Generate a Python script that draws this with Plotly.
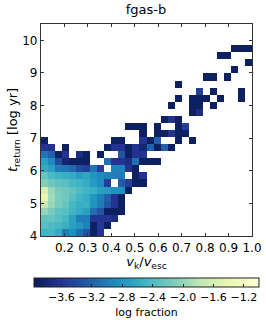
import plotly.graph_objects as go

_ = None
N = -3.9
# log fraction per cell, one list per t_return row (bottom to top), columns left to right
r00 = [-2.5, -2.45, -2.6, -3.0, -2.85, -3.1, -3.3, N, -3.6]
r01 = [-2.35, -2.4, -2.45, -2.55, -2.7, -2.8, -2.95, N, -3.55, N]
r02 = [-2.3, -2.25, -2.35, -2.45, -2.7, -3.0, -3.0, -3.6, -3.6, -3.6, -3.7]
r03 = [-2.0, -2.15, -2.3, -2.35, -2.5, -2.6, -2.7, -3.1, -3.3, N, N, N]
r04 = [-1.75, -1.98, -2.15, -2.25, -2.45, -2.55, -2.55, -2.8, -3.0, -3.3, -3.6, N]
r05 = [-1.4, -1.92, -2.12, -2.2, -2.35, -2.5, -2.6, -2.8, -2.95, -3.2, -3.6, N]
r06 = [-1.6, -1.98, -2.15, -2.2, -2.28, -2.4, -2.5, -2.55, -2.7, -2.75, -2.85, -2.85, N]
r07 = [-2.1, -2.2, -2.28, -2.32, -2.45, -2.5, -2.6, -2.75, -2.85, -3.5, _, -3.25, -3.5, N, N]
r08 = [-2.25, -2.42, -2.5, -2.55, -2.6, -2.75, -2.65, -2.8, -2.9, -2.95, -3.0, -3.0, _, N, -3.6]
r09 = [-2.6, -2.7, -3.0, -3.05, -3.15, -3.4, -3.5, -3.05, -3.5, _, -2.95, -2.95, -3.6, N]
r10 = [-2.7, -2.9, -3.4, -3.8, N, N, N, _, _, -3.1, -3.6, -3.6, -3.7, -3.1, N, N, N]
r11 = [-3.05, -3.2, N, -3.6, _, -3.7, N, _, N, _, _, -3.3, N, -3.6, -3.6]
r12 = [-3.6, -3.6, _, N, _, _, _, _, _, N, -3.6, -3.6, N, -3.6, -3.8, -3.2, N, -3.2, N]
r13 = [N, _, _, _, _, _, _, _, _, _, N, N, _, _, -3.6, N, -3.2, _, _, N, _, N]
r14 = [_, _, _, _, _, _, _, _, _, _, _, _, _, _, N, _, N, N, -3.6, N, N]
r15 = [_, _, _, _, _, _, _, _, _, _, _, _, N, N, N, _, N, _, _, N, -3.5]
r16 = [_, _, _, _, _, _, _, _, _, _, _, _, _, _, _, _, _, N, -3.6, N]
r17 = [_, _, _, _, _, _, _, _, _, _, _, _, _, _, _, _, _, _, _, _, _, N, -3.7]
r18 = [_, _, _, _, _, _, _, _, _, _, _, _, _, _, _, _, _, _, N, _, _, N, N, _, N]
r19 = [_, _, _, _, _, _, _, _, _, _, _, _, _, _, _, _, _, _, _, N, _, N, N, N, _, N, _, _, N]
r20 = [_, _, _, _, _, _, _, _, _, _, _, _, _, _, _, _, _, _, _, _, _, _, -3.5, _, N, _, _, _, N]
r21 = [_, _, _, _, _, _, _, _, _, _, _, _, _, _, _, _, _, _, _, N]
r22 = [_, _, _, _, _, _, _, _, _, _, _, _, _, _, _, _, _, _, _, _, _, _, _, N, N, _, N]
r23 = [_, _, _, _, _, _, _, _, _, _, _, _, _, _, _, _, _, _, _, _, _, _, _, _, _, _, _, N]
r24 = [_, _, _, _, _, _, _, _, _, _, _, _, _, _, _, _, _, _, _, _, _, _, _, _, _, _, _, _, _, N]
r25 = [_, _, _, _, _, _, _, _, _, _, _, _, _, _, _, _, _, _, _, _, _, _, _, _, _, N, N]
r26 = [_, _, _, _, _, _, _, _, _, _, _, _, _, _, _, _, _, _, _, _, _, _, _, _, _, _, _, N, N, N]
r27 = []
r28 = []
r29 = []
rows = [r00, r01, r02, r03, r04, r05, r06, r07, r08, r09, r10, r11, r12, r13, r14,
        r15, r16, r17, r18, r19, r20, r21, r22, r23, r24, r25, r26, r27, r28, r29]

n_bins = 30
x_min, x_max = 0.1, 1.0
y_min, y_max = 4.0, 10.5
x_ticks = [0.2, 0.3, 0.4, 0.5, 0.6, 0.7, 0.8, 0.9, 1.0]
y_ticks = [4, 5, 6, 7, 8, 9, 10]
z_min, z_max = -3.96, -1.0
cbar_ticks = [-3.6, -3.2, -2.8, -2.4, -2.0, -1.6, -1.2]
ylgnbu_r = ["#081d58", "#253494", "#225ea8", "#1d91c0", "#41b6c4", "#7fcdbb", "#c7e9b4", "#edf8b1", "#ffffd9"]

x_edges = [x_min + (x_max - x_min) * i / n_bins for i in range(n_bins + 1)]
y_edges = [y_min + (y_max - y_min) * i / n_bins for i in range(n_bins + 1)]
z = [r + [None] * (n_bins - len(r)) for r in rows]

FONT = "DejaVu Sans"
fig = go.Figure(go.Heatmap(
    z=z, x=x_edges, y=y_edges, zmin=z_min, zmax=z_max,
    colorscale=ylgnbu_r, hoverongaps=False,
    colorbar=dict(
        orientation="h", lenmode="pixels", len=225, thicknessmode="pixels", thickness=9,
        xref="paper", yref="container", x=(34 - 41) / 211.5, xanchor="left", y=1 - 278 / 325, yanchor="top",
        xpad=0, ypad=0, outlinecolor="#222", outlinewidth=1,
        tickvals=cbar_ticks, tickformat=".1f", ticks="inside", ticklen=3, tickcolor="#222", tickwidth=0.6,
        tickfont=dict(family=FONT, size=11, color="black"),
        title=dict(text="log fraction", side="bottom", font=dict(family=FONT, size=11, color="black")),
    ),
))
axis = dict(showgrid=False, zeroline=False, showline=True, linecolor="#333", linewidth=1.2, mirror="ticks",
            ticks="inside", ticklen=3, tickcolor="#333", tickwidth=0.6,
            tickfont=dict(family=FONT, size=12, color="black"))
fig.update_xaxes(range=[x_min, x_max], tickvals=x_ticks, tickformat=".1f",
                 title=dict(text="<i>v</i><sub>k</sub>/<i>v</i><sub>esc</sub>", font=dict(family=FONT, size=13, color="black"), standoff=3), **axis)
fig.update_yaxes(range=[y_min, y_max], tickvals=y_ticks,
                 title=dict(text="<i>t</i><sub>return</sub> [log yr]", font=dict(family=FONT, size=13, color="black"), standoff=1), **axis)
fig.update_layout(
    width=266, height=325, margin=dict(l=41, r=13.5, t=24, b=89, autoexpand=False), paper_bgcolor="white", plot_bgcolor="white",
    title=dict(text="fgas-b", x=146 / 266, xanchor="center", y=1 - 9 / 325, yanchor="middle",
               font=dict(family=FONT, size=13, color="black")),
    font=dict(family=FONT),
)
fig.write_html("out.html", config=dict(displayModeBar=False),
               post_script="document.body.style.margin='0';document.documentElement.style.overflow='hidden';")
